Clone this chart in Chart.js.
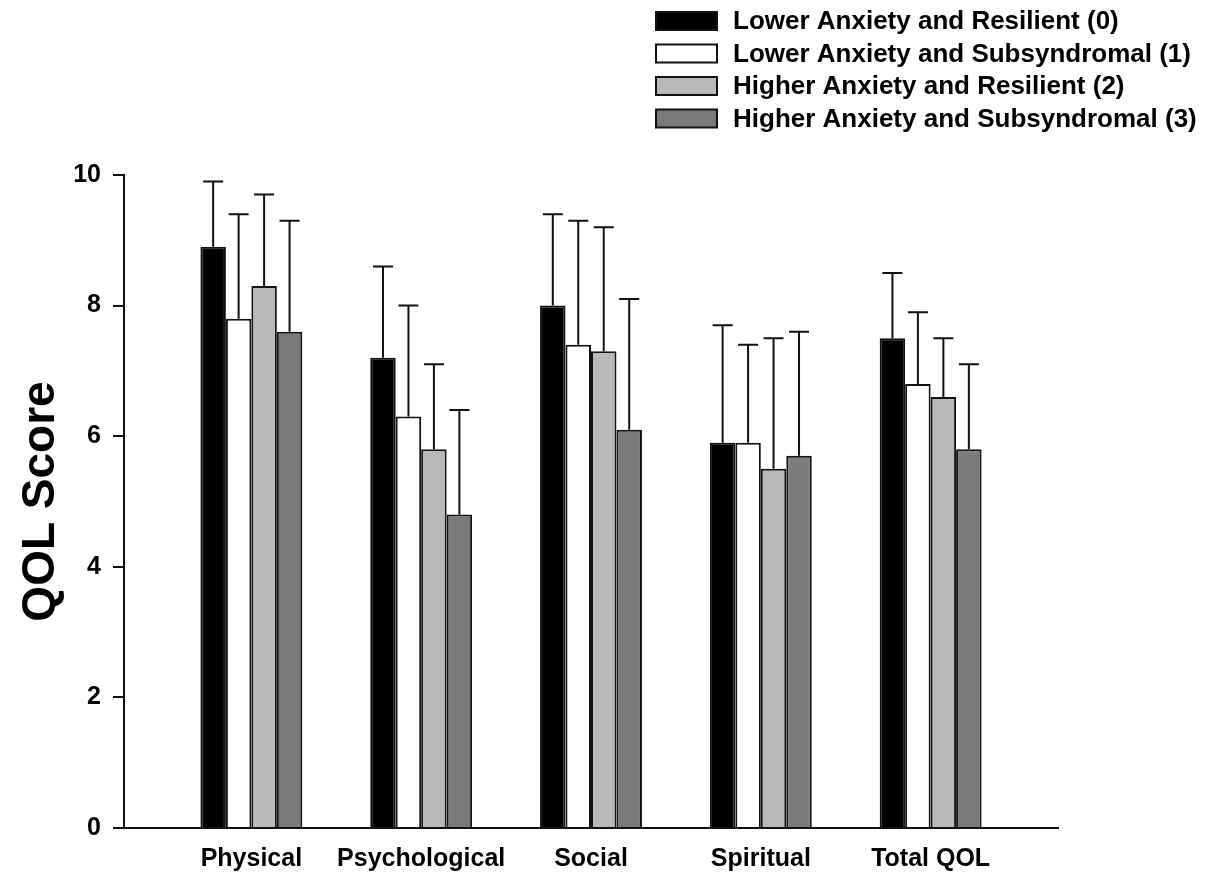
<!DOCTYPE html>
<html><head><meta charset="utf-8">
<style>html,body{margin:0;padding:0;background:#fff;}#wrap{width:1214px;height:872px;}canvas{display:block;}</style>
<script src="https://cdn.jsdelivr.net/npm/chart.js@4.4.1/dist/chart.umd.min.js"></script>
</head><body><div id="wrap"><canvas id="c" width="1214" height="872"></canvas></div>
<script>
const categories = ['Physical', 'Psychological', 'Social', 'Spiritual', 'Total QOL'];
const seriesLabels = ['Lower Anxiety and Resilient (0)', 'Lower Anxiety and Subsyndromal (1)', 'Higher Anxiety and Resilient (2)', 'Higher Anxiety and Subsyndromal (3)'];
const lowerResilient = [8.9, 7.2, 8.0, 5.9, 7.5];
const lowerSubsyndromal = [7.8, 6.3, 7.4, 5.9, 6.8];
const higherResilient = [8.3, 5.8, 7.3, 5.5, 6.6];
const higherSubsyndromal = [7.6, 4.8, 6.1, 5.7, 5.8];
const sdLowerResilient = [1.0, 1.4, 1.4, 1.8, 1.0];
const sdLowerSubsyndromal = [1.6, 1.7, 1.9, 1.5, 1.1];
const sdHigherResilient = [1.4, 1.3, 1.9, 2.0, 0.9];
const sdHigherSubsyndromal = [1.7, 1.6, 2.0, 1.9, 1.3];
const yTicks = [0, 2, 4, 6, 8, 10];
const seriesColors = ['#000000', '#ffffff', '#b9b9b9', '#7a7a7a'];

const FONT = "'Liberation Sans', Arial, Helvetica, sans-serif";
const values = [lowerResilient, lowerSubsyndromal, higherResilient, higherSubsyndromal];
const sds = [sdLowerResilient, sdLowerSubsyndromal, sdHigherResilient, sdHigherSubsyndromal];

const datasets = values.map((vals, k) => ({
  label: seriesLabels[k],
  data: vals.map((v, i) => ({ x: i, y: v })),
  sd: sds[k],
  backgroundColor: seriesColors[k],
  borderColor: '#111111',
  borderWidth: 2,
  borderSkipped: 'start',
  categoryPercentage: 0.6,
  barPercentage: 1.0
}));

const bgPlugin = {
  id: 'bg',
  beforeDraw(chart) {
    const c = chart.ctx; c.save(); c.fillStyle = '#ffffff';
    c.fillRect(0, 0, chart.width, chart.height); c.restore();
  }
};

const errorBars = {
  id: 'errorBars',
  afterDatasetsDraw(chart) {
    const c = chart.ctx, ys = chart.scales.y;
    c.save(); c.strokeStyle = '#111111'; c.lineWidth = 2;
    chart.data.datasets.forEach((ds, di) => {
      chart.getDatasetMeta(di).data.forEach((bar, i) => {
        const top = ys.getPixelForValue(ds.data[i].y + ds.sd[i]);
        c.beginPath();
        c.moveTo(bar.x, bar.y); c.lineTo(bar.x, top);
        c.moveTo(bar.x - 10, top); c.lineTo(bar.x + 10, top);
        c.stroke();
      });
    });
    c.restore();
  }
};

const legendPlugin = {
  id: 'vlegend',
  afterDraw(chart) {
    const c = chart.ctx; c.save();
    const x0 = 656, boxW = 61, boxH = 18, textX = 733, y0 = 21, step = 32.5;
    c.font = 'bold 26px ' + FONT; c.textBaseline = 'middle'; c.textAlign = 'left';
    chart.data.datasets.forEach((ds, k) => {
      const cy = y0 + k * step;
      c.fillStyle = ds.backgroundColor; c.fillRect(x0, cy - boxH / 2, boxW, boxH);
      c.strokeStyle = '#111111'; c.lineWidth = 2; c.strokeRect(x0, cy - boxH / 2, boxW, boxH);
      c.fillStyle = '#000000'; c.fillText(ds.label, textX, cy + 1);
    });
    c.restore();
  }
};

new Chart(document.getElementById('c'), {
  type: 'bar',
  data: { datasets },
  plugins: [bgPlugin, errorBars, legendPlugin],
  options: {
    responsive: false,
    animation: false,
    devicePixelRatio: 1,
    layout: { padding: { top: 175, right: 156, bottom: 0, left: 0 } },
    plugins: { legend: { display: false }, tooltip: { enabled: false } },
    scales: {
      x: {
        type: 'linear', min: -0.75, max: 4.75, offset: false,
        afterBuildTicks(s) { s.ticks = categories.map((_, i) => ({ value: i })); },
        afterFit(s) { s.height = 44; },
        grid: { display: false, drawTicks: false },
        border: { display: true, color: '#111111', width: 2 },
        ticks: {
          autoSkip: false, maxRotation: 0, padding: 16, color: '#000000',
          font: { family: FONT, size: 25, weight: 'bold' },
          callback: (v) => categories[v] !== undefined ? categories[v] : ''
        }
      },
      y: {
        min: 0, max: 10,
        afterBuildTicks(s) { s.ticks = yTicks.map(v => ({ value: v })); },
        afterFit(s) { s.width = 124; },
        grid: { display: true, drawOnChartArea: false, drawTicks: true, tickLength: 11, color: '#111111', lineWidth: 2 },
        border: { display: true, color: '#111111', width: 2 },
        ticks: { padding: 12, color: '#000000', font: { family: FONT, size: 25, weight: 'bold' } },
        title: { display: true, text: 'QOL Score', color: '#000000', font: { family: FONT, size: 46, weight: 'bold' }, padding: { top: 14, bottom: 0 } }
      }
    }
  }
});
</script></body></html>
